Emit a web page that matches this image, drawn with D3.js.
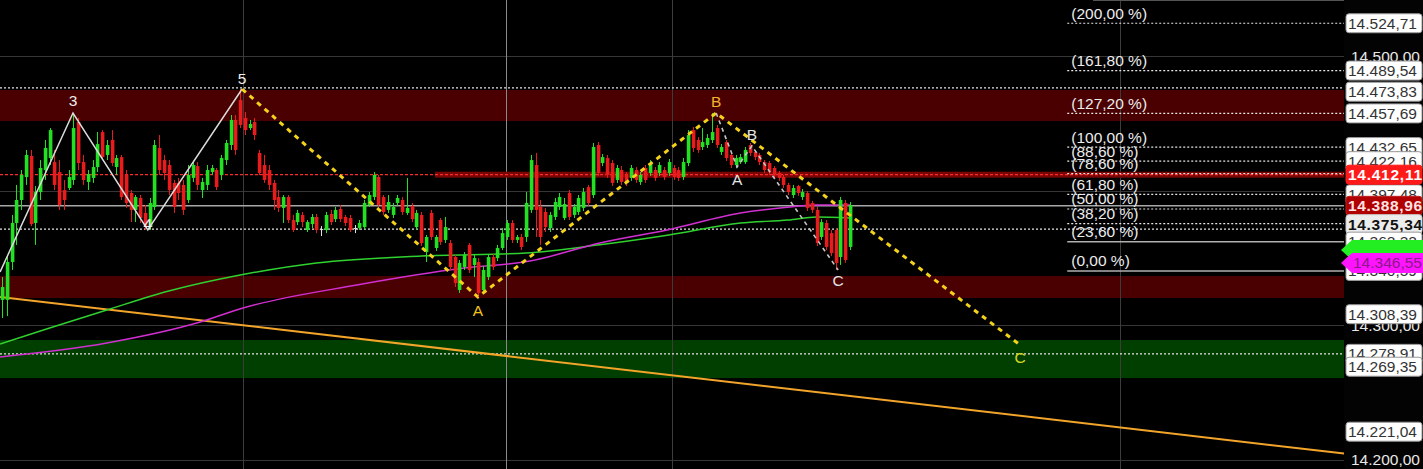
<!DOCTYPE html>
<html><head><meta charset="utf-8">
<script src="https://cdn.jsdelivr.net/npm/d3@7"></script>
<style>html,body{margin:0;padding:0;background:#000;overflow:hidden}svg{display:block}</style>
</head><body><svg id="c" width="1423" height="469"></svg>
<script>
// ---------- DATA ----------
// candles: [open, high, low, close]
const candles = [
[14319.0,14336.0,14305.6,14328.6],[14319.0,14352.4,14307.0,14347.2],[14347.2,14382.2,14341.3,14376.2],[14376.2,14404.5,14359.9,14393.3],
[14393.3,14415.6,14385.9,14411.9],[14410.4,14430.5,14404.5,14426.8],[14426.0,14430.5,14373.9,14375.4],[14376.2,14403.7,14359.9,14399.2],
[14399.2,14423.0,14393.3,14417.1],[14415.6,14437.9,14408.2,14432.0],[14424.5,14446.8,14419.3,14445.3],[14421.5,14430.5,14400.7,14404.5],
[14414.1,14423.0,14385.9,14389.6],[14400.7,14408.2,14385.9,14393.3],[14402.2,14415.6,14400.7,14410.4],[14408.2,14458.0,14404.5,14446.8],
[14451.3,14454.3,14415.6,14420.8],[14421.5,14426.8,14404.5,14408.2],[14406.7,14415.6,14400.7,14412.6],[14409.7,14423.0,14406.0,14417.8],
[14417.8,14443.8,14414.1,14434.9],[14443.8,14445.3,14423.0,14425.2],[14426.8,14437.9,14423.0,14434.2],[14437.9,14445.3,14418.5,14420.8],
[14417.8,14426.8,14411.9,14424.5],[14425.2,14426.8,14393.3,14395.5],[14411.9,14415.6,14387.4,14391.1],[14398.5,14400.7,14376.9,14385.9],
[14385.9,14397.0,14376.9,14395.5],[14394.8,14397.0,14376.2,14379.9],[14383.7,14389.6,14371.0,14373.2],[14373.2,14394.8,14371.0,14391.1],
[14388.1,14437.9,14385.9,14434.2],[14432.0,14441.6,14411.9,14415.6],[14423.0,14426.8,14408.2,14413.4],[14419.3,14423.0,14397.0,14400.7],
[14406.0,14408.2,14383.7,14388.1],[14406.0,14409.7,14393.3,14398.5],[14404.5,14408.2,14382.2,14385.9],[14393.3,14419.3,14391.1,14411.9],
[14409.7,14421.5,14406.7,14419.3],[14418.5,14421.5,14400.7,14404.5],[14400.7,14409.7,14394.8,14406.7],[14404.5,14419.3,14400.7,14415.6],
[14414.1,14419.3,14411.9,14417.1],[14415.6,14417.1,14400.7,14402.9],[14411.9,14426.8,14408.2,14424.5],[14423.0,14437.9,14419.3,14435.7],
[14434.2,14456.5,14430.5,14452.8],[14452.8,14456.5,14426.8,14430.5],[14467.6,14475.8,14446.8,14449.1],[14454.3,14458.7,14441.6,14445.3],
[14446.8,14452.8,14445.3,14449.8],[14451.3,14454.3,14437.9,14441.6],
[14428.3,14430.5,14411.9,14413.4],[14419.3,14426.8,14406.0,14408.2],[14415.6,14419.3,14400.7,14404.5],[14406.0,14408.2,14385.9,14393.3],
[14395.5,14400.7,14384.4,14387.4],[14387.4,14397.0,14376.2,14395.5],[14395.5,14397.0,14376.2,14378.4],[14378.4,14382.2,14369.5,14371.0],
[14376.9,14385.9,14374.7,14383.7],[14382.2,14384.4,14373.2,14376.9],[14371.0,14378.4,14369.5,14376.9],[14375.4,14382.9,14372.5,14380.7],
[14380.7,14382.9,14368.7,14371.0],[14371.0,14373.9,14366.5,14371.7],[14371.0,14384.4,14368.7,14382.2],[14382.9,14385.9,14374.7,14376.9],
[14379.1,14388.1,14376.9,14385.9],[14386.6,14389.6,14376.9,14379.1],[14380.7,14382.2,14373.9,14376.2],[14379.9,14382.2,14369.5,14371.0],
[14371.7,14374.7,14368.7,14372.5],[14372.5,14378.4,14371.0,14376.2],[14373.2,14393.3,14371.7,14391.1],[14389.6,14399.2,14388.1,14397.0],
[14395.5,14414.1,14393.3,14411.9],[14410.4,14411.9,14387.4,14389.6],[14395.5,14397.0,14382.2,14384.4],[14385.9,14397.0,14383.7,14391.8],
[14382.2,14391.1,14379.9,14388.1],[14391.1,14397.0,14388.8,14394.8],[14393.3,14395.5,14382.2,14384.4],[14383.7,14409.7,14382.2,14387.4],
[14388.8,14391.1,14376.9,14379.1],[14373.2,14385.9,14371.0,14383.7],[14382.2,14384.4,14359.1,14361.3],[14354.6,14367.3,14347.2,14365.8],
[14383.7,14385.9,14363.6,14365.8],[14357.6,14367.3,14355.4,14365.8],[14378.4,14379.9,14359.9,14362.1],[14363.6,14380.7,14361.3,14373.2],
[14361.3,14363.6,14341.3,14343.5],[14350.9,14352.4,14328.6,14331.6],[14326.4,14348.7,14324.2,14346.5],[14343.5,14354.6,14341.3,14352.4],
[14359.9,14361.3,14339.0,14341.3],[14345.0,14352.4,14336.0,14350.1],[14347.2,14350.1,14321.2,14324.2],[14326.4,14344.2,14324.2,14341.3],
[14336.0,14353.1,14333.8,14350.9],[14350.9,14353.1,14341.3,14343.5],[14350.1,14359.9,14347.9,14357.6],[14357.6,14372.5,14356.1,14368.7],
[14365.8,14378.4,14363.6,14376.2],[14376.2,14378.4,14361.3,14363.6],[14363.6,14367.3,14361.3,14365.8],[14365.8,14368.0,14356.1,14358.4],
[14365.8,14399.2,14362.1,14391.1],[14385.9,14426.8,14383.7,14423.0],[14419.3,14428.3,14365.8,14385.9],[14388.1,14393.3,14359.9,14365.8],
[14384.4,14387.4,14369.5,14373.2],[14372.5,14384.4,14369.5,14382.2],[14380.7,14394.8,14378.4,14391.8],[14388.1,14398.5,14385.9,14395.5],
[14379.9,14394.8,14378.4,14390.3],[14398.5,14400.7,14378.4,14380.7],[14382.2,14390.3,14379.9,14388.1],[14384.4,14397.0,14382.2,14394.8],
[14387.4,14402.2,14385.1,14399.2],[14402.9,14404.5,14388.8,14391.1],[14397.0,14435.7,14394.8,14432.7],[14434.2,14436.4,14411.2,14413.4],
[14420.8,14427.5,14418.5,14425.2],[14424.5,14426.8,14409.7,14411.9],[14420.8,14423.0,14403.7,14406.0],[14408.2,14419.3,14406.0,14417.1],
[14415.6,14418.5,14404.5,14406.7],[14411.9,14414.1,14403.7,14406.0],[14409.7,14419.3,14407.5,14417.1],[14415.6,14417.8,14406.0,14408.2],
[14406.7,14414.1,14404.5,14411.9],[14417.1,14419.3,14406.0,14408.2],[14413.4,14423.0,14411.2,14420.8],[14415.6,14417.8,14407.5,14409.7],
[14413.4,14421.5,14411.2,14419.3],[14415.6,14417.8,14408.2,14410.4],[14413.4,14423.8,14411.2,14421.5],[14417.1,14419.3,14408.2,14410.4],
[14415.6,14417.8,14407.5,14409.7],[14410.4,14424.5,14408.2,14421.5],[14420.8,14445.3,14418.5,14441.6],[14445.3,14447.5,14429.0,14432.0],
[14437.9,14440.1,14428.3,14430.5],[14432.7,14446.8,14430.5,14436.4],[14434.2,14442.3,14432.0,14439.4],[14437.9,14458.0,14435.7,14443.8],
[14446.8,14449.1,14432.0,14434.2],[14429.0,14434.9,14426.8,14432.7],[14436.4,14437.9,14422.3,14424.5],[14426.8,14429.0,14417.1,14419.3],
[14419.3,14426.8,14417.1,14424.5],[14421.5,14427.5,14420.1,14425.2],[14421.5,14432.7,14420.1,14430.5],[14434.2,14435.7,14426.0,14428.3],
[14429.0,14430.5,14423.0,14425.2],[14426.8,14428.3,14419.3,14421.5],[14421.5,14423.0,14413.4,14415.6],[14420.8,14422.3,14411.9,14414.1],
[14417.1,14418.5,14409.7,14411.9],[14413.4,14414.9,14407.5,14409.7],[14410.4,14411.9,14402.2,14404.5],[14404.5,14406.0,14397.0,14399.2],
[14397.0,14404.5,14394.8,14402.2],[14403.7,14404.5,14396.3,14398.5],[14395.5,14401.5,14393.3,14399.2],[14398.5,14400.0,14385.1,14387.4],
[14391.1,14392.6,14383.7,14385.9],[14385.9,14388.1,14359.1,14361.3],[14365.8,14379.1,14363.6,14376.9],[14376.2,14378.4,14356.1,14358.4],
[14368.7,14371.0,14351.6,14353.9],[14371.0,14372.5,14341.3,14346.5],[14350.9,14395.5,14345.0,14393.3],[14391.1,14393.3,14346.5,14348.7],
[14358.4,14391.8,14356.1,14389.6]
];

// Elliott wave points: [candle index, price, label]
const impulseWave = [[-0.4,14339.8,""],[14.9,14458.0,"3"],[30.6,14371.0,"4"],[50.4,14475.8,"5"]];
const correctionWave = [[50.4,14475.8,""],[99.9,14321.2,"A"],[149.9,14458.0,"B"],[213.7,14285.5,"C"]];
const minorWave = [[149.9,14458.0,""],[154.3,14417.8,"A"],[157.4,14433.5,"B"],[175.5,14341.3,"C"]];

// moving averages: [candle index, price]
const maGreen = [[-0.4,14286.2],[10,14298.1],[22,14311.5],[35,14325.6],[50,14337.5],[66,14346.5],[88,14351.7],
  [110,14353.9],[125,14359.8],[140,14367.3],[155,14376.2],[165,14378.4],[171,14380.7],[178,14379.9]];
const maMagenta = [[-0.4,14276.6],[22,14287.0],[41.6,14302.6],[50.6,14313.0],[74.5,14330.1],[97,14342.7],
  [110.8,14347.9],[125.5,14361.3],[139.6,14371.0],[155,14383.6],[165.4,14388.1],[171,14389.6],[178,14389.6]];

// trend line endpoints
const trendLine = [[-0.4,14321.2],[281.7,14204.8]];

// fibonacci retracement
const fibLow = 14340.59, fibHigh = 14432.65, fibStartIndex = 223.6;
const fibRatios = [2, 1.618, 1.272, 1, 0.886, 0.786, 0.618, 0.5, 0.382, 0.236, 0];

// zones [top, bottom]
const redZones = [[14475.1,14452.0],[14336.8,14320.4]];
const greenZones = [[14289.2,14260.9]];

// horizontal levels
const dottedLevels = [14476.6, 14371.7, 14278.91];
const supportLine = 14388.96;
const lastPrice = 14412.11;
const lastGlowStartIndex = 90.9;

// vertical session separators (candle index)
const separators = [50.6, 105.8, 140.6, 234.7];

// axis ticks and right-hand price tags
const axisTicks = [14200, 14300, 14400, 14500];
const tagValues = [14524.71,14489.54,14473.83,14457.69,14432.65,14422.16,14397.48];
const lastTag = 14412.11, darkTag = 14388.96, lightTag = 14375.34;
const lowerTags = [14362.32, 14340.59];
const greenTag = 14356.1, magentaTag = 14346.55;
const bottomTags = [14308.39, 14278.91, 14269.35, 14221.04];

// ---------- DRAW ----------
const W = 1423, H = 469, plotRight = 1344;
const svg = d3.select("#c");
const x = d3.scaleLinear().domain([0, candles.length - 1]).range([2, 850]);
const y = d3.scaleLinear().domain([14193.3, 14542.0]).range([H, 0]);
const FONT = "'Liberation Sans', Arial, sans-serif";
const FS = 15.5;
const loc = d3.formatLocale({decimal: ",", thousands: ".", grouping: [3], currency: ["", ""]});
const fmt = loc.format(",.2f");

svg.append("rect").attr("width", W).attr("height", H).attr("fill", "#000");

const g = svg.append("g");
// zones
g.selectAll(".rz").data(redZones).join("rect")
  .attr("x", 0).attr("width", plotRight).attr("y", d => y(d[0])).attr("height", d => y(d[1]) - y(d[0]))
  .attr("fill", "#4a0000");
g.selectAll(".gz").data(greenZones).join("rect")
  .attr("x", 0).attr("width", plotRight).attr("y", d => y(d[0])).attr("height", d => y(d[1]) - y(d[0]))
  .attr("fill", "#013f01");

// grid
g.selectAll(".grid").data(axisTicks).join("line")
  .attr("x1", 0).attr("x2", plotRight).attr("y1", d => Math.round(y(d)) + 0.5).attr("y2", d => Math.round(y(d)) + 0.5)
  .attr("stroke", "#363636").attr("stroke-width", 1);
g.selectAll(".sep").data(separators).join("line")
  .attr("x1", d => Math.round(x(d)) + 0.5).attr("x2", d => Math.round(x(d)) + 0.5).attr("y1", 0).attr("y2", H)
  .attr("stroke", (d, i) => i === 1 ? "#8a8a8a" : "#3c3c3c").attr("stroke-width", 1);
// top border
g.append("line").attr("x1", 1093).attr("x2", W).attr("y1", 0.5).attr("y2", 0.5).attr("stroke", "#555");

// red last-price glow + dashed line
g.append("rect").attr("x", x(lastGlowStartIndex)).attr("width", plotRight - x(lastGlowStartIndex))
  .attr("y", y(lastPrice) - 3).attr("height", 6).attr("fill", "#7a0505");
g.append("line").attr("x1", 0).attr("x2", plotRight).attr("y1", y(lastPrice)).attr("y2", y(lastPrice))
  .attr("stroke", "#ff2a2a").attr("stroke-width", 1.3).attr("stroke-dasharray", "3,2");

// support solid
g.append("line").attr("x1", 0).attr("x2", plotRight).attr("y1", y(supportLine)).attr("y2", y(supportLine))
  .attr("stroke", "#a8a8a8").attr("stroke-width", 1.5);
// dotted full width levels
g.selectAll(".dl").data(dottedLevels).join("line")
  .attr("x1", 0).attr("x2", plotRight).attr("y1", d => y(d)).attr("y2", d => y(d))
  .attr("stroke", "#e6e6e6").attr("stroke-width", 1.2).attr("stroke-dasharray", "2,2");

// fibonacci
const fib = fibRatios.map(r => ({r, v: fibLow + r * (fibHigh - fibLow), label: "(" + d3.format(".2f")(r * 100).replace(".", ",") + " %)"}));
const solidFib = new Set([0.236, 0]);
g.selectAll(".fl").data(fib).join("line")
  .attr("x1", x(fibStartIndex)).attr("x2", plotRight).attr("y1", d => y(d.v)).attr("y2", d => y(d.v))
  .attr("stroke", d => solidFib.has(d.r) ? "#b0b0b0" : "#e6e6e6").attr("stroke-width", d => solidFib.has(d.r) ? 1.5 : 1.2)
  .attr("stroke-dasharray", d => solidFib.has(d.r) ? null : "2,2");
g.selectAll(".ft").data(fib).join("text")
  .attr("x", x(fibStartIndex) + 4).attr("y", d => y(d.v) - 4.5)
  .attr("fill", "#ececec").attr("font-family", FONT).attr("font-size", FS).text(d => d.label);

// trend line
g.append("line").attr("x1", x(trendLine[0][0])).attr("y1", y(trendLine[0][1]))
  .attr("x2", x(trendLine[1][0])).attr("y2", y(trendLine[1][1]))
  .attr("stroke", "#f2a52a").attr("stroke-width", 2);

// moving averages
const maLine = d3.line().x(d => x(d[0])).y(d => y(d[1])).curve(d3.curveMonotoneX);
g.append("path").attr("d", maLine(maGreen)).attr("fill", "none").attr("stroke", "#2fd12f").attr("stroke-width", 1.5);
g.append("path").attr("d", maLine(maMagenta)).attr("fill", "none").attr("stroke", "#d22fd2").attr("stroke-width", 1.5);

// candles
const cg = g.append("g");
const colorOf = d => Math.abs(d[3] - d[0]) < 1 ? "#e0e0e0" : (d[3] > d[0] ? "#22e022" : "#e81c1c");
cg.selectAll(".wick").data(candles).join("line")
  .attr("x1", (d, i) => Math.round(x(i)) + 0.5).attr("x2", (d, i) => Math.round(x(i)) + 0.5)
  .attr("y1", d => y(d[1])).attr("y2", d => y(d[2])).attr("stroke", colorOf).attr("stroke-width", 1);
cg.selectAll(".body").data(candles).join("rect")
  .attr("x", (d, i) => Math.round(x(i)) - 1.2).attr("width", 3.6)
  .attr("y", d => y(Math.max(d[0], d[3])))
  .attr("height", d => Math.max(1, Math.abs(y(d[0]) - y(d[3]))))
  .attr("fill", colorOf);

// waves
const wl = d3.line().x(d => x(d[0])).y(d => y(d[1]));
g.append("path").attr("d", wl(impulseWave)).attr("fill", "none").attr("stroke", "#dcdcdc").attr("stroke-width", 1.5);
g.append("path").attr("d", wl(correctionWave)).attr("fill", "none").attr("stroke", "#f4d21c").attr("stroke-width", 3).attr("stroke-dasharray", "5,5");
g.append("path").attr("d", wl(minorWave)).attr("fill", "none").attr("stroke", "#c4c4c4").attr("stroke-width", 1.6).attr("stroke-dasharray", "4,4");

function waveLabels(data, colors, offsets) {
  g.selectAll(null).data(data.filter(d => d[2])).join("text")
    .attr("x", d => x(d[0])).attr("y", (d, i) => y(d[1]) + offsets[i])
    .attr("text-anchor", "middle").attr("font-family", FONT).attr("font-size", FS)
    .attr("fill", (d, i) => colors[i]).text(d => d[2]);
}
waveLabels(impulseWave, ["#eeeeee", "#eeeeee", "#eeeeee"], [-7, -1, -5]);
waveLabels(correctionWave, ["#f0c21e", "#f2b42a", "#d8d81e"], [19, -6, 18]);
waveLabels(minorWave, ["#e4e4e4", "#e4e4e4", "#e4e4e4"], [18, -6, 16]);

// ---------- RIGHT AXIS ----------
const ax = svg.append("g");
ax.append("rect").attr("x", plotRight).attr("width", W - plotRight).attr("height", H).attr("fill", "#030303");
ax.selectAll(".tk").data(axisTicks).join("text")
  .attr("x", plotRight + 7).attr("y", d => y(d) + 5.5)
  .attr("fill", "#e8e8e8").attr("font-family", FONT).attr("font-size", FS).text(d => fmt(d));

function tag(v, fill, stroke, color, bold) {
  const yy = y(v);
  ax.append("rect").attr("x", plotRight + 2).attr("y", yy - 9.5).attr("width", 76).attr("height", 19).attr("rx", 3)
    .attr("fill", fill).attr("stroke", stroke).attr("stroke-width", 1);
  ax.append("text").attr("x", plotRight + 4).attr("y", yy + 5.5).attr("fill", color)
    .attr("font-family", FONT).attr("font-size", FS).attr("font-weight", bold ? "bold" : "normal")
    .attr("textLength", bold ? 74 : null).text(fmt(v));
}
function arrowTag(v, fill, color, withText) {
  const yy = y(v), h = 10;
  ax.append("path").attr("d", `M${plotRight - 3},${yy} L${plotRight + 8},${yy - h} L${W},${yy - h} L${W},${yy + h} L${plotRight + 8},${yy + h} Z`)
    .attr("fill", fill);
  if (withText) ax.append("text").attr("x", plotRight + 9).attr("y", yy + 5.5).attr("fill", color)
    .attr("font-family", FONT).attr("font-size", FS).text(fmt(v));
}
tagValues.forEach(v => tag(v, "#fff", "#999", "#333", false));
tag(lastTag, "#ff1a1a", "#ff1a1a", "#fff", true);
tag(darkTag, "#b00000", "#c02020", "#ffe4e4", true);
tag(lightTag, "#ececec", "#ccc", "#111", true);
lowerTags.forEach(v => tag(v, "#fff", "#999", "#333", false));
arrowTag(greenTag, "#22ee22", "#000", false);
arrowTag(magentaTag, "#ff14ff", "#8a1a8a", true);
bottomTags.forEach(v => tag(v, "#fff", "#999", "#333", false));
</script></body></html>
